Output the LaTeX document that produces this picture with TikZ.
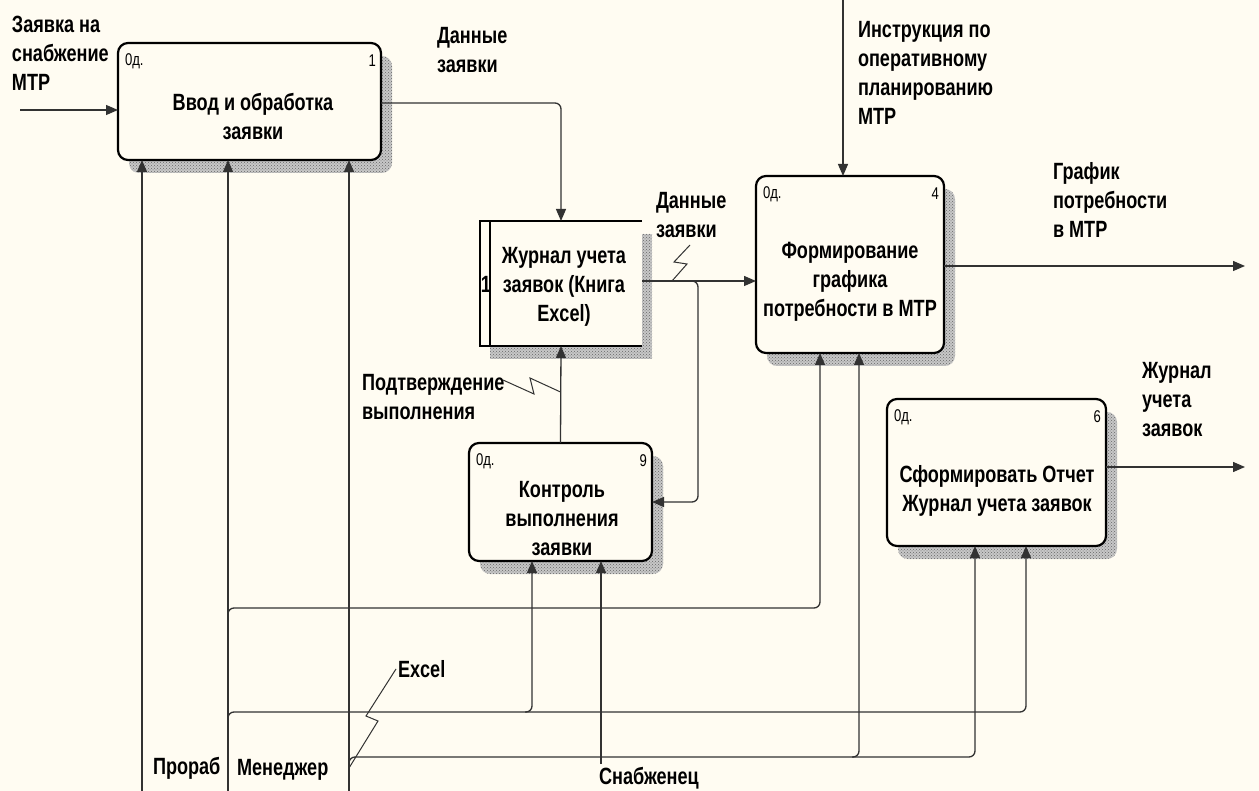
\documentclass[tikz,border=0pt]{standalone}
\usepackage{fontspec}
\setmainfont{Liberation Sans}[FakeStretch=0.77]
\usetikzlibrary{arrows.meta,patterns}
\pgfdeclarelayer{paper}
\pgfdeclarelayer{shade}
\pgfsetlayers{paper,shade,main}
\definecolor{papercol}{RGB}{255,252,242}
\definecolor{wirecol}{RGB}{50,50,50}
\newcommand\idfont{\fontsize{23.5}{29}\selectfont\bfseries}
\newcommand\tagfont{\fontsize{17}{17}\selectfont}
\tikzset{
  every node/.style={inner sep=0pt, outer sep=0pt},
  func/.style={rectangle, draw=black, line width=2.2pt, rounded corners=10pt, fill=papercol},
  shadepat/.style={preaction={fill=black!22}, pattern=crosshatch dots, pattern color=black!60},
  boxtxt/.style={font=\idfont, align=center, anchor=north},
  lbl/.style={font=\idfont, align=left, anchor=north west},
  tagl/.style={font=\tagfont, anchor=west},
  tagr/.style={font=\tagfont, anchor=east},
  wire/.style={draw=wirecol, line width=1.3pt, rounded corners=6pt},
  arr/.style={wire, -{Triangle[length=12pt,width=10pt]}},
  squig/.style={draw=wirecol, line width=1pt},
}
\begin{document}
\begin{tikzpicture}[x=1pt,y=-1pt]
\useasboundingbox (0,0) rectangle (1259,791);
\begin{pgfonlayer}{paper}
  \fill[papercol] (0,0) rectangle (1259,791);
\end{pgfonlayer}

% function blocks
\node[func, minimum width=263pt, minimum height=117pt] (b1) at (249.5,101.5) {};
\node[func, minimum width=188pt, minimum height=177pt] (b4) at (850,264.5) {};
\node[func, minimum width=183pt, minimum height=118pt] (b9) at (560.5,502) {};
\node[func, minimum width=219pt, minimum height=147pt] (b6) at (996.5,472.5) {};

% data store
\node[rectangle, fill=papercol, minimum width=162pt, minimum height=125pt] (jr) at (561,283.5) {};
\draw[line width=2.2pt] (jr.north east) -- (jr.north west) -- (jr.south west) -- (jr.south east);
\draw[line width=2.2pt] ([xshift=10pt]jr.north west) -- ([xshift=10pt]jr.south west);

% drop shadows
\begin{pgfonlayer}{shade}
  \foreach \b in {b1,b4,b9,b6}
    \fill[shadepat, rounded corners=10pt] ([shift={(11pt,-13pt)}]\b.south west) rectangle ([shift={(11pt,-13pt)}]\b.north east);
  \fill[shadepat] ([shift={(10pt,-13pt)}]jr.south west) rectangle ([shift={(10pt,-13pt)}]jr.north east);
\end{pgfonlayer}

% block texts
\node[boxtxt] (t1) at (253,93) {Ввод и обработка\\заявки};
\node[boxtxt] (t4) at (850,242) {Формирование\\графика\\потребности в МТР};
\node[boxtxt] (t9) at (562,481) {Контроль\\выполнения\\заявки};
\node[boxtxt] (t6) at (997,465) {Сформировать Отчет\\Журнал учета заявок};
\node[boxtxt] (tj) at (564,247) {Журнал учета\\заявок (Книга\\Excel)};
\node[font=\idfont] (jn) at (486,284) {1};

% corner tags
\node[tagl] (c1) at ([shift={(7pt,-18pt)}]b1.north west) {0д.};
\node[tagr] (n1) at ([shift={(-5pt,-18pt)}]b1.north east) {1};
\node[tagl] (c4) at ([shift={(7pt,-18pt)}]b4.north west) {0д.};
\node[tagr] (n4) at ([shift={(-5pt,-18pt)}]b4.north east) {4};
\node[tagl] (c9) at ([shift={(7pt,-18pt)}]b9.north west) {0д.};
\node[tagr] (n9) at ([shift={(-5pt,-18pt)}]b9.north east) {9};
\node[tagl] (c6) at ([shift={(7pt,-18pt)}]b6.north west) {0д.};
\node[tagr] (n6) at ([shift={(-5pt,-18pt)}]b6.north east) {6};

% arrow labels
\node[lbl] (lin)  at (12,16)    {Заявка на\\снабжение\\МТР};
\node[lbl] (ld1)  at (437,27)   {Данные\\заявки};
\node[lbl] (lins) at (858,21)   {Инструкция по\\оперативному\\планированию\\МТР};
\node[lbl] (lgr)  at (1053,162) {График\\потребности\\в МТР};
\node[lbl] (ljr)  at (1142,362) {Журнал\\учета\\заявок};
\node[lbl] (ld2)  at (656,192)  {Данные\\заявки};
\node[lbl] (lpod) at (362,374)  {Подтверждение\\выполнения};
\node[lbl] (lxl)  at (398,660)  {Excel};
\node[lbl] (lpr)  at (153,757)  {Прораб};
\node[lbl] (lmn)  at (237,759)  {Менеджер};
\node[lbl] (lsn)  at (599,767)  {Снабженец};

% boundary points and rails
\coordinate (srcin) at (20,110);
\coordinate (ctl4) at (843,0);
\coordinate (sink) at (1245,0);
\coordinate (mPr) at (142,791);
\coordinate (mMn) at (228,791);
\coordinate (mXl) at (349,791);
\coordinate (mSn) at (601,764);
\coordinate (r1) at (0,608);
\coordinate (r2) at (0,712);
\coordinate (r3) at (0,757);
\coordinate (x4a) at (820,0);
\coordinate (x4b) at (859,0);
\coordinate (x6a) at (975,0);
\coordinate (x6b) at (1026,0);
\coordinate (x9a) at (532,0);
\coordinate (brx) at (690,0);

% inputs and outputs
\draw[arr] (srcin) -- (srcin -| b1.west);
\draw[arr] ([yshift=-1.5pt]b1.east) -| (jr.north);
\draw[arr] ([yshift=2.5pt]jr.east) coordinate (jo) -- (jo -| b4.west);
\draw[arr] (jo -| brx) -- ++(8,0) |- (b9.east);
\draw[arr] (b9.north) -- (jr.south);
\draw[arr] (ctl4) -- (ctl4 |- b4.north);
\draw[arr] ([yshift=-1.5pt]b4.east) coordinate (o4) -- (o4 -| sink);
\draw[arr] ([yshift=5.5pt]b6.east) coordinate (o6) -- (o6 -| sink);

% mechanisms
\draw[arr] (mPr) -- (mPr |- b1.south);
\draw[arr] (mMn) -- (mMn |- b1.south);
\draw[arr] (mXl) -- (mXl |- b1.south);
\draw[arr] ([yshift=-5pt]mMn |- r1) -- (mMn |- r1) -| (x4a |- b4.south);
\draw[arr] ([yshift=-5pt]mMn |- r2) -- (mMn |- r2) -| (x6b |- b6.south);
\draw[arr] ([xshift=-7pt]x9a |- r2) -- (x9a |- r2) -- (x9a |- b9.south);
\draw[arr] ([yshift=-5pt]mXl |- r3) -- (mXl |- r3) -| (x6a |- b6.south);
\draw[arr] ([xshift=-7pt]x4b |- r3) -- (x4b |- r3) -- (x4b |- b4.south);
\draw[arr] (mSn) -- (mSn |- b9.south);

% label leaders
\coordinate (sq1) at (672,0);
\draw[squig] (jo -| sq1) -- ++(15,-17) -- ++(-13,-2) -- ++(16,-17);
\coordinate (sq2) at (503,380);
\draw[squig] (sq2) -- ++(31,14) -- ++(-4,-16) -- (b9.north |- 0,392);
\coordinate (sq3) at (349,768);
\draw[squig] (sq3) -- ++(29,-47) -- ++(-12,-5) -- ++(30,-47);
\end{tikzpicture}
\end{document}
